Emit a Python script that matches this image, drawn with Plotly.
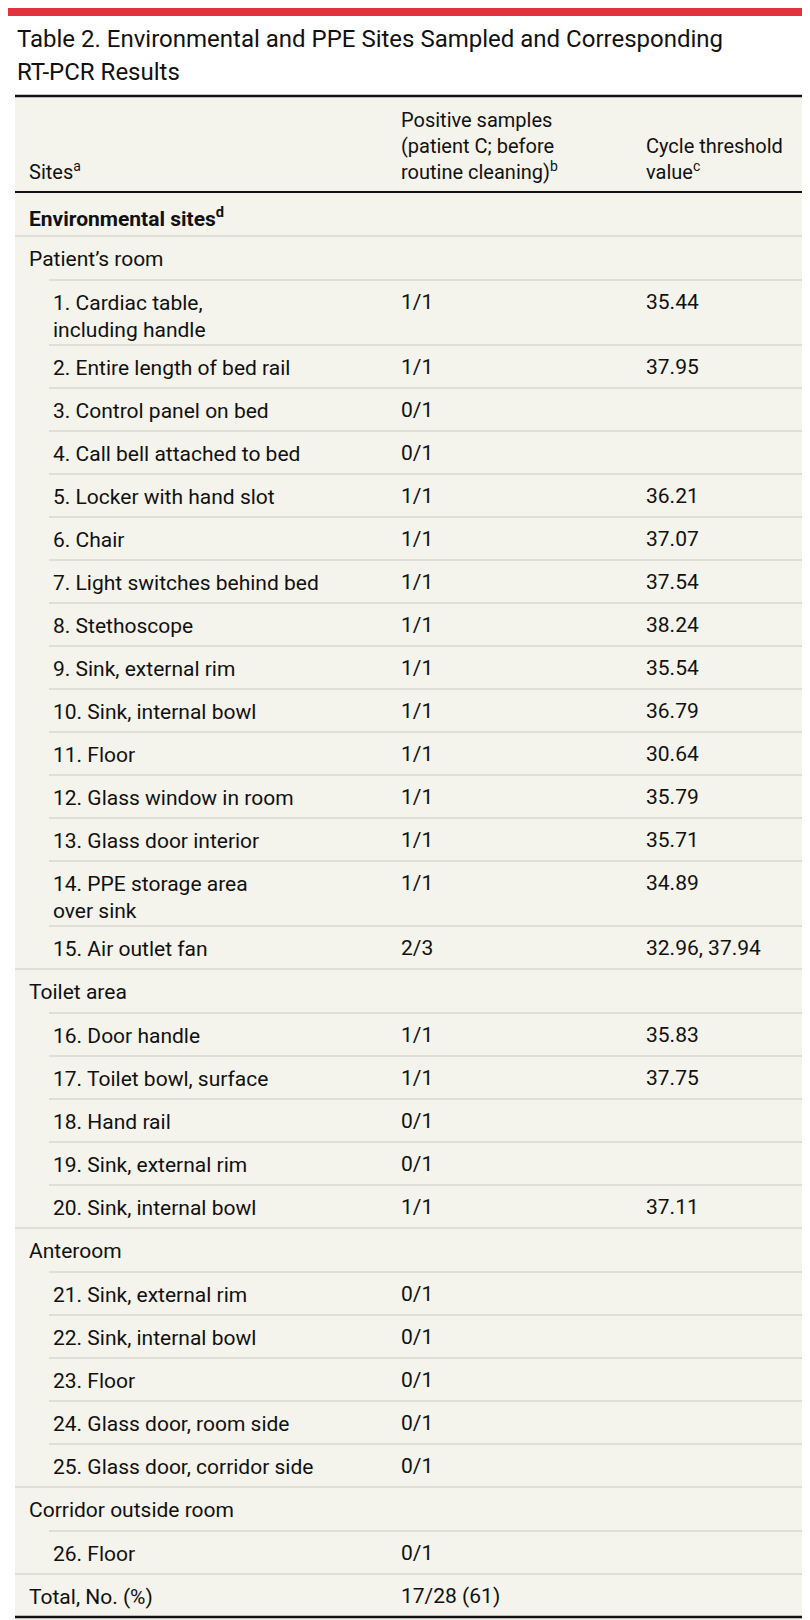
import plotly.graph_objects as go

title_lines = ["Table 2. Environmental and PPE Sites Sampled and Corresponding", "RT-PCR Results"]
headers = ["Sites<sup>a</sup>", "Positive samples<br>(patient C; before<br>routine cleaning)<sup>b</sup>", "Cycle threshold<br>value<sup>c</sup>"]
# kind: 'sec' = section heading, 'sub' = indented item, 'tot' = total
kinds = ["sec", "sec"] + ["sub"]*15 + ["sec"] + ["sub"]*5 + ["sec"] + ["sub"]*5 + ["sec", "sub", "tot"]
sites = ["Environmental sites<sup>d</sup>", "Patient’s room",
         "1. Cardiac table,<br>including handle", "2. Entire length of bed rail", "3. Control panel on bed",
         "4. Call bell attached to bed", "5. Locker with hand slot", "6. Chair", "7. Light switches behind bed",
         "8. Stethoscope", "9. Sink, external rim", "10. Sink, internal bowl", "11. Floor",
         "12. Glass window in room", "13. Glass door interior", "14. PPE storage area<br>over sink",
         "15. Air outlet fan", "Toilet area", "16. Door handle", "17. Toilet bowl, surface", "18. Hand rail",
         "19. Sink, external rim", "20. Sink, internal bowl", "Anteroom", "21. Sink, external rim",
         "22. Sink, internal bowl", "23. Floor", "24. Glass door, room side", "25. Glass door, corridor side",
         "Corridor outside room", "26. Floor", "Total, No. (%)"]
positives = ["", "", "1/1", "1/1", "0/1", "0/1", "1/1", "1/1", "1/1", "1/1", "1/1", "1/1", "1/1", "1/1", "1/1",
             "1/1", "2/3", "", "1/1", "1/1", "0/1", "0/1", "1/1", "", "0/1", "0/1", "0/1", "0/1", "0/1", "", "0/1",
             "17/28 (61)"]
ct_values = ["", "", "35.44", "37.95", "", "", "36.21", "37.07", "37.54", "38.24", "35.54", "36.79", "30.64",
             "35.79", "35.71", "34.89", "32.96, 37.94", "", "35.83", "37.75", "", "", "37.11", "", "", "", "", "",
             "", "", "", ""]
next_section = "Staff PPE sites"

FONT = "Roboto, sans-serif"
BG = "#f4f3ec"
LINE = "#d9d8cf"
W, H = 810, 1620
L, R = 7, 810
X1, X1S, X2, X3 = 19, 43, 391, 636

shapes, ann = [], []
shapes.append(dict(type="rect", x0=0, x1=W, y0=0, y1=8, fillcolor="#e2323c", line_width=0, layer="below"))
for i, t in enumerate(title_lines):
    ann.append(dict(x=L, y=31 + 33*i, text=t, xanchor="left", yanchor="middle", showarrow=False,
                    font=dict(size=24, color="#111", family=FONT)))

top = 88
shapes.append(dict(type="rect", x0=L, x1=R, y0=top, y1=H, fillcolor=BG, line_width=0, layer="below"))
shapes.append(dict(type="line", x0=L, x1=R, y0=top, y1=top, line=dict(color="#111", width=2.5)))
hb = 184
for x, t in zip([X1, X2, X3], headers):
    ann.append(dict(x=x, y=hb - 6, text=t, xanchor="left", yanchor="bottom", align="left", showarrow=False,
                    font=dict(size=20, color="#111", family=FONT)))
shapes.append(dict(type="line", x0=L, x1=R, y0=hb, y1=hb, line=dict(color="#111", width=2)))

y = hb
for i, (k, s, p, c) in enumerate(zip(kinds, sites, positives, ct_values)):
    two = "<br>" in s
    h = 65 if two else (44 if k == "sec" else 43)
    first = y + 21.5
    xs = X1S if k == "sub" else X1
    txt = f"<b>{s}</b>" if i == 0 else s
    ann.append(dict(x=xs, y=first - 13, text=txt, xanchor="left", yanchor="top", align="left", showarrow=False,
                    font=dict(size=21, color="#111", family=FONT)))
    for x, v in [(X2, p), (X3, c)]:
        if v:
            ann.append(dict(x=x, y=first, text=v, xanchor="left", yanchor="middle", showarrow=False,
                            font=dict(size=21, color="#111", family=FONT)))
    y += h
    nxt = kinds[i + 1] if i + 1 < len(kinds) else None
    if nxt is None:
        shapes.append(dict(type="line", x0=L, x1=R, y0=y, y1=y, line=dict(color="#111", width=2.5)))
    else:
        x0 = X1S - 2 if nxt == "sub" and k != "tot" else L
        shapes.append(dict(type="line", x0=x0, x1=R, y0=y, y1=y, line=dict(color=LINE, width=1.5)))

ann.append(dict(x=X1, y=y + 6, text=f"<b>{next_section}</b>", xanchor="left", yanchor="top", showarrow=False,
                font=dict(size=21, color="#111", family=FONT)))

fig = go.Figure()
fig.update_layout(width=W, height=H, margin=dict(l=0, r=0, t=0, b=0), paper_bgcolor="white",
                  plot_bgcolor="white", shapes=shapes, annotations=ann, showlegend=False,
                  xaxis=dict(range=[0, W], visible=False, fixedrange=True),
                  yaxis=dict(range=[H, 0], visible=False, fixedrange=True))
fig.write_html("out.html", config={"displayModeBar": False})
